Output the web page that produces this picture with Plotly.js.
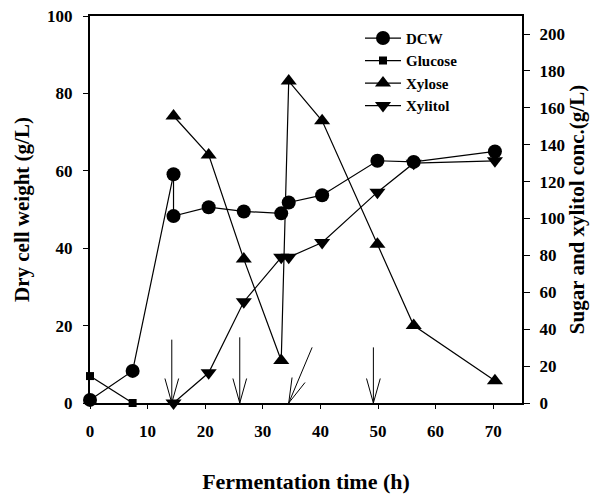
<!DOCTYPE html>
<html>
<head>
<meta charset="utf-8">
<script src="https://cdn.plot.ly/plotly-3.0.1.min.js"></script>
<style>html,body{margin:0;padding:0;background:#fff;}#chart{width:599px;height:494px;}</style>
</head>
<body>
<div id="chart"></div>
<script>
// ---- data ----
var timeDCW   = [0, 7.4, 14.5, 14.5, 20.6, 26.7, 33.2, 34.5, 40.3, 49.9, 56.2, 70.3];
var dcw       = [0.8, 8.3, 59.1, 48.3, 50.6, 49.5, 49.0, 51.8, 53.7, 62.6, 62.3, 65.0];
var timeGlc   = [0, 7.4];
var glucose   = [14.6, 0];
var timeXyl   = [14.5, 20.6, 26.7, 33.2, 34.5, 40.3, 49.9, 56.2, 70.3];
var xylose    = [155.6, 134.5, 78, 23, 174.5, 153, 86, 42, 12];
var xylitol   = [0, 16.4, 54.9, 79, 79, 87, 114.3, 130, 131.3];
var feedTimes = [14.2, 26.0, 49.2];
var xTicks    = [0, 10, 20, 30, 40, 50, 60, 70];
var yLeftTicks  = [0, 20, 40, 60, 80, 100];
var yRightTicks = [0, 20, 40, 60, 80, 100, 120, 140, 160, 180, 200];

var FONT = 'Liberation Serif, Times New Roman, serif';
var ln = {color: '#000', width: 1.2};

var traces = [
  {x: timeDCW, y: dcw, name: 'DCW', mode: 'lines+markers', yaxis: 'y', cliponaxis: false,
   line: ln, marker: {symbol: 'circle', size: 14, color: '#000'}},
  {x: timeGlc, y: glucose, name: 'Glucose', mode: 'lines+markers', yaxis: 'y2', cliponaxis: false,
   line: ln, marker: {symbol: 'square', size: 8, color: '#000'}},
  {x: timeXyl, y: xylose, name: 'Xylose', mode: 'lines+markers', yaxis: 'y2', cliponaxis: false,
   line: ln, marker: {symbol: 'triangle-up', size: 14, color: '#000'}},
  {x: timeXyl, y: xylitol, name: 'Xylitol', mode: 'lines+markers', yaxis: 'y2', cliponaxis: false,
   line: ln, marker: {symbol: 'triangle-down', size: 14, color: '#000'}}
];

// feeding arrows (shaft + two arms)
var ann = [];
function arrow(xTip, xTail, yTail, armL, armR) {
  var base = {x: xTip, y: 0, xref: 'x', yref: 'y', showarrow: true, arrowhead: 0,
              arrowwidth: 1, arrowcolor: '#000', text: '', font: {size: 1}, borderpad: 0};
  ann.push(Object.assign({}, base, {ax: xTail, ay: yTail, axref: 'x', ayref: 'y'}));
  ann.push(Object.assign({}, base, {ax: armL[0], ay: armL[1]}));
  ann.push(Object.assign({}, base, {ax: armR[0], ay: armR[1]}));
}
arrow(feedTimes[0], feedTimes[0], 16.5, [-7, -25], [7, -25]);
arrow(feedTimes[1], feedTimes[1], 17.1, [-7, -25], [7, -25]);
arrow(34.5, 38.6, 14.5, [3.4, -26], [16.7, -21]);
arrow(feedTimes[2], feedTimes[2], 14.5, [-7, -25], [7, -25]);

var axisCommon = {
  showgrid: false, zeroline: false, showline: true, linecolor: '#000', linewidth: 2,
  ticks: 'outside', ticklen: 5, tickwidth: 1, tickcolor: '#000',
  tickfont: {family: FONT, size: 17, color: '#000', weight: 'bold'}
};

var layout = {
  width: 599, height: 494,
  margin: {l: 90, r: 77, t: 16, b: 91, pad: 0},
  paper_bgcolor: '#fff', plot_bgcolor: '#fff',
  showlegend: true,
  legend: {x: 0.625, y: 0.985, xanchor: 'left', yanchor: 'top', bgcolor: 'rgba(0,0,0,0)',
           itemwidth: 36,
           font: {family: FONT, size: 15, color: '#000', weight: 'bold'}, tracegroupgap: 0},
  xaxis: Object.assign({}, axisCommon, {
    range: [0, 75], tickvals: xTicks, ticklen: 4, mirror: true, ticklabelstandoff: 8,
    title: {text: 'Fermentation time (h)', standoff: 34,
            font: {family: FONT, size: 22, color: '#000', weight: 'bold'}}
  }),
  yaxis: Object.assign({}, axisCommon, {
    range: [0, 100], tickvals: yLeftTicks, ticklabelstandoff: 7,
    title: {text: 'Dry cell weight (g/L)', standoff: 12,
            font: {family: FONT, size: 21, color: '#000', weight: 'bold'}}
  }),
  yaxis2: Object.assign({}, axisCommon, {
    overlaying: 'y', side: 'right', range: [0, 209.8], tickvals: yRightTicks, ticklen: 6,
    ticklabelstandoff: 6,
    title: {text: 'Sugar and xylitol conc.(g/L)', standoff: 5,
            font: {family: FONT, size: 21, color: '#000', weight: 'bold'}}
  }),
  annotations: ann
};

Plotly.newPlot('chart', traces, layout, {displayModeBar: false, staticPlot: true});
</script>
</body>
</html>
